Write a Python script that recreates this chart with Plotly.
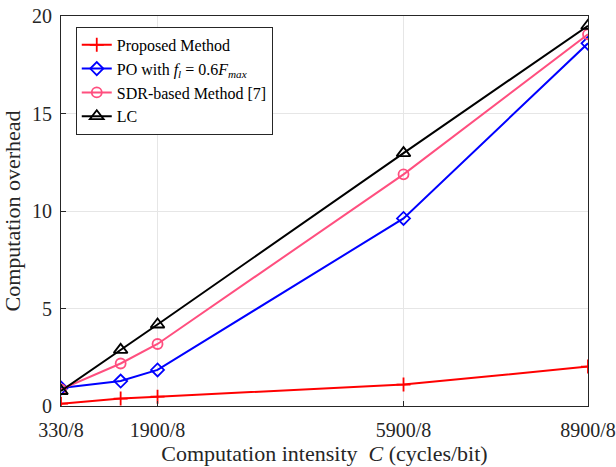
import plotly.graph_objects as go

x_vals = [330, 1300, 1900, 5900, 8900]
tick_vals = [330, 1900, 5900, 8900]
tick_text = ["330/8", "1900/8", "5900/8", "8900/8"]

proposed = [0.12, 0.38, 0.48, 1.1, 2.02]
po = [0.92, 1.28, 1.85, 9.62, 18.6]
sdr = [0.85, 2.18, 3.18, 11.88, 19.06]
lc = [0.77, 2.88, 4.18, 12.97, 19.5]

series = [
    ("Proposed Method", proposed, "#FF0000", "cross-thin", 10),
    ("PO with <i>f</i><sub><i>l</i></sub> = 0.6<i>F</i><sub><i>max</i></sub>", po, "#0000FF", "diamond-open", 10),
    ("SDR-based Method [7]", sdr, "#FF4F7F", "circle-open", 10),
    ("LC", lc, "#000000", "triangle-up-open", 12),
]

fig = go.Figure()
for name, ys, color, sym, size in series:
    fig.add_trace(go.Scatter(
        x=x_vals, y=ys, name=name, mode="lines+markers",
        line=dict(color=color, width=2),
        marker=dict(symbol=sym, size=size, color=color, line=dict(color=color, width=1.8)),
    ))

font_family = "Liberation Serif, Times New Roman, serif"
fig.update_layout(
    width=616, height=467,
    margin=dict(l=61, r=28, t=16, b=61, autoexpand=False),
    paper_bgcolor="white", plot_bgcolor="white",
    font=dict(family=font_family, size=20, color="#262626"),
    showlegend=True,
    legend=dict(
        x=0.028, y=0.972, xanchor="left", yanchor="top",
        bgcolor="white", bordercolor="#262626", borderwidth=1,
        font=dict(family=font_family, size=16, color="#000000"),
        tracegroupgap=0, itemwidth=30,
    ),
)
fig.update_xaxes(
    range=[330, 8900], tickvals=tick_vals, ticktext=tick_text,
    showgrid=True, gridcolor="#E6E6E6", gridwidth=1,
    showline=True, linecolor="#262626", linewidth=1, mirror=True,
    ticks="inside", ticklen=5, tickcolor="#262626",
    zeroline=False, ticklabelstandoff=6, automargin=False,
    title=dict(text="Computation intensity  <i>C</i> (cycles/bit)", font=dict(size=22), standoff=4),
    tickfont=dict(size=20),
)
fig.update_yaxes(
    range=[0, 20], tickvals=[0, 5, 10, 15, 20],
    showgrid=True, gridcolor="#E6E6E6", gridwidth=1,
    showline=True, linecolor="#262626", linewidth=1, mirror=True,
    ticks="inside", ticklen=5, tickcolor="#262626",
    zeroline=False, ticklabelstandoff=4, automargin=False,
    title=dict(text="Computation overhead", font=dict(size=22), standoff=8),
    tickfont=dict(size=20),
)

fig.write_html("out.html")
